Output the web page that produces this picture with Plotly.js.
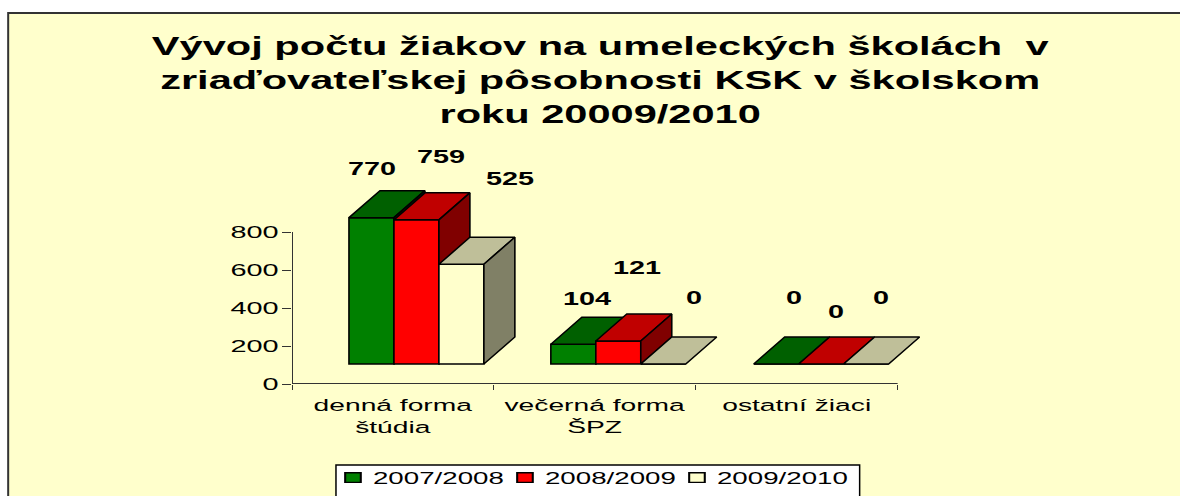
<!DOCTYPE html>
<html>
<head>
<meta charset="utf-8">
<script src="https://cdn.plot.ly/plotly-3.0.1.min.js"></script>
<style>
html,body{margin:0;padding:0;background:#fff;overflow:hidden}
#chart{width:1180px;height:496px}
</style>
</head>
<body>
<div id="chart"></div>
<script>
var categories = ["denná forma<br>štúdia", "večerná forma<br>ŠPZ", "ostatní žiaci"];
var seriesNames = ["2007/2008", "2008/2009", "2009/2010"];
var values2007 = [770, 104, 0];
var values2008 = [759, 121, 0];
var values2009 = [525, 0, 0];
var yTicks = [0, 200, 400, 600, 800];
var titleText = "Vývoj počtu žiakov na umeleckých školách  v<br>zriaďovateľskej pôsobnosti KSK v školskom<br>roku 20009/2010";

var FONT = "Liberation Sans, Arial, sans-serif";
var W = 1180, H = 496, L = 292, B = 384;
var pxX = 202, pxY = 152 / 800;
var xMax = 3.2, yMax = 1300;
var R = L + xMax * pxX, T = B - yMax * pxY;
var barW = 45 / pxX, depthX = 31 / pxX, depthY = 27 / pxY, floorY = 20 / pxY;
var groupStart = [57 / pxX, 57 / pxX, 58 / pxX];
var front = ["#008000", "#FF0000", "#FFFFCC"];
var topC = ["#006000", "#C00000", "#BFBF99"];
var sideC = ["#004000", "#800000", "#808066"];
var series = [values2007, values2008, values2009];
var traces = [], annotations = [];
// label centres, in pixels of the picture: [series][category]
var labelCentres = [
  [[372, 169], [587, 299], [794, 298]],
  [[441, 157], [637, 268], [836, 312]],
  [[510, 179], [694, 298], [881, 298]]
];

// axis lines stop at the last tick, while the plot area continues for the depth of the bars
traces.push({type: "scatter", mode: "lines", x: [0, 3], y: [0, 0], line: {color: "#333", width: 2},
  showlegend: false, hoverinfo: "skip", cliponaxis: false});
traces.push({type: "scatter", mode: "lines", x: [0, 0], y: [0, 800], line: {color: "#333", width: 2},
  showlegend: false, hoverinfo: "skip", cliponaxis: false});

series.forEach(function (vals, s) {
  var ax = s === 0 ? "" : String(s + 1);
  var xs = [];
  vals.forEach(function (v, c) {
    var x0 = c + groupStart[c] + s * barW, x1 = x0 + barW, t = floorY + v;
    xs.push(x0 + barW / 2);
    traces.push({
      type: "scatter", mode: "lines", fill: "toself", fillcolor: topC[s],
      x: [x0, x1, x1 + depthX, x0 + depthX, x0], y: [t, t, t + depthY, t + depthY, t],
      line: {color: "#000", width: 1.6}, showlegend: false, hoverinfo: "skip",
      xaxis: "x" + ax, yaxis: "y" + ax
    });
    if (v > 0) traces.push({
      type: "scatter", mode: "lines", fill: "toself", fillcolor: sideC[s],
      x: [x1, x1, x1 + depthX, x1 + depthX, x1], y: [floorY, t, t + depthY, floorY + depthY, floorY],
      line: {color: "#000", width: 1.6}, showlegend: false, hoverinfo: "skip",
      xaxis: "x" + ax, yaxis: "y" + ax
    });
    var lab = labelCentres[s][c];
    annotations.push({
      xref: "x", yref: "y", x: (lab[0] - L) / pxX, y: (B - lab[1]) / pxY,
      text: "<b>" + v + "</b>", showarrow: false, xanchor: "center", yanchor: "middle",
      font: {family: FONT, size: 18, color: "#000"}
    });
  });
  traces.push({
    type: "bar", name: seriesNames[s], x: xs, y: vals, base: floorY, width: barW,
    marker: {color: front[s], line: {color: "#000", width: 1.6}},
    xaxis: "x" + ax, yaxis: "y" + ax
  });
});

function px(x) { return (x - L) / (R - L); }
function py(y) { return (B - y) / (B - T); }

var layout = {
  width: W, height: H, autosize: false,
  margin: {l: L, r: W - R, t: T, b: H - B, pad: 0, autoexpand: false},
  paper_bgcolor: "#fff", plot_bgcolor: "rgba(0,0,0,0)",
  font: {family: FONT, size: 17, color: "#000"},
  showlegend: true,
  barmode: "overlay",
  annotations: annotations.concat([{
    xref: "paper", yref: "paper", x: px(601), y: py(80), xanchor: "center", yanchor: "middle",
    text: "<b>" + titleText + "</b>", showarrow: false, align: "center",
    font: {family: FONT, size: 26, color: "#000"}
  }]),
  shapes: [{
    type: "rect", xref: "paper", yref: "paper", layer: "below",
    x0: px(8), x1: px(1195), y0: py(13), y1: py(510),
    fillcolor: "#FFFFCC", line: {color: "#333", width: 2}
  }, {
    type: "rect", xref: "paper", yref: "paper", layer: "below",
    x0: px(336), x1: px(860), y0: py(465), y1: py(510),
    fillcolor: "#fff", line: {color: "#000", width: 1.5}
  }],
  xaxis: {
    range: [0, xMax], showline: false, zeroline: false, showgrid: false,
    tickmode: "array", tickvals: [0.5, 1.5, 2.5], ticktext: categories, ticks: "", ticklen: 0,
    ticklabelstandoff: 9,
    tickfont: {family: FONT, size: 17, color: "#000"},
    minor: {tickmode: "array", tickvals: [0, 1, 2, 3], ticks: "outside", ticklen: 5, tickcolor: "#333", tickwidth: 1, showgrid: false}
  },
  yaxis: {
    range: [0, yMax], showline: false, zeroline: false, showgrid: false,
    tickmode: "array", tickvals: yTicks, ticks: "outside", ticklen: 9, tickcolor: "#333", tickwidth: 1,
    tickfont: {family: FONT, size: 17, color: "#000"}
  },
  xaxis2: {range: [0, xMax], overlaying: "x", anchor: "y2", visible: false},
  yaxis2: {range: [0, yMax], overlaying: "y", anchor: "x2", visible: false},
  xaxis3: {range: [0, xMax], overlaying: "x", anchor: "y3", visible: false},
  yaxis3: {range: [0, yMax], overlaying: "y", anchor: "x3", visible: false},
  legend: {
    orientation: "h", xref: "paper", yref: "paper", x: px(333), y: py(460), xanchor: "left", yanchor: "top",
    bgcolor: "rgba(0,0,0,0)", borderwidth: 0, font: {family: FONT, size: 17, color: "#000"},
    itemwidth: 30, traceorder: "normal", entrywidth: 127, entrywidthmode: "pixels"
  }
};

// the reference's text is stretched sideways: widen each real text element around an anchor
function stretch(el, anchor, k) {
  var b = el.getBBox();
  var c = anchor === "right" ? b.x + b.width : anchor === "left" ? b.x : b.x + b.width / 2;
  var old = el.getAttribute("transform") || "";
  el.setAttribute("transform", old + " translate(" + c + ",0) scale(" + k + ",1) translate(" + (-c) + ",0)");
}
Plotly.newPlot("chart", traces, layout, {displayModeBar: false, responsive: false}).then(function (gd) {
  gd.querySelectorAll(".annotation-text").forEach(function (t) { stretch(t, "center", 1.6); });
  gd.querySelectorAll(".xtick text").forEach(function (t) { stretch(t, "center", 1.66); });
  gd.querySelectorAll(".ytick text").forEach(function (t) { stretch(t, "right", 1.7); });
  gd.querySelectorAll(".legendtext").forEach(function (t) { stretch(t, "left", 1.63); });
  gd.querySelectorAll(".legend .legendpoints path").forEach(function (p) {
    p.setAttribute("transform", (p.getAttribute("transform") || "") + " scale(1.3,0.8)");
  });
});
</script>
</body>
</html>
